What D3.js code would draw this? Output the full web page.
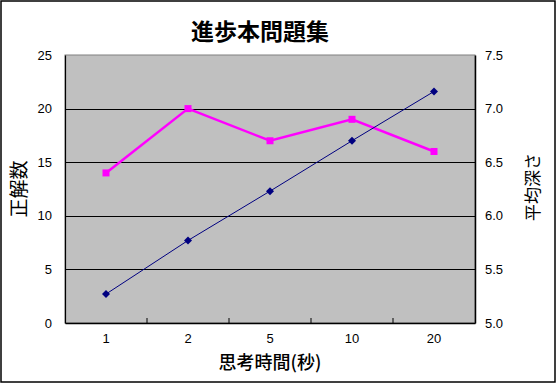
<!DOCTYPE html>
<html><head><meta charset="utf-8">
<script src="https://cdn.jsdelivr.net/npm/d3@7"></script>
<style>body{margin:0;background:#fff}svg{display:block}</style>
</head><body>
<svg id="c" width="557" height="385"></svg>
<script>
const categories = ["1","2","5","10","20"];
const correct = [14, 20, 17, 19, 16];
const avgDepth = [5.27, 5.77, 6.23, 6.70, 7.16];
const leftTicks = [0,5,10,15,20,25];
const rightTicks = [5.0,5.5,6.0,6.5,7.0,7.5];
const title = "進歩本問題集";
const xTitle = "思考時間(秒)";
const yTitle = "正解数";
const y2Title = "平均深さ";

const svg = d3.select("#c");
const m = {l:65, r:475, t:55, b:323};
const font = "'Liberation Sans', Arial, sans-serif";
const cjk = "'Noto Sans CJK JP', sans-serif";

svg.append("rect").attr("x",1).attr("y",1).attr("width",554).attr("height",381)
  .attr("fill","#fff").attr("stroke","#000").attr("stroke-width",1.5);

const x = d3.scaleBand().domain(categories).range([m.l, m.r]).padding(0);
const y = d3.scaleLinear().domain([0,25]).range([m.b, m.t]);
const y2 = d3.scaleLinear().domain([5,7.5]).range([m.b, m.t]);

svg.append("rect").attr("x",m.l).attr("y",m.t).attr("width",m.r-m.l).attr("height",m.b-m.t)
  .attr("fill","#C0C0C0").attr("stroke","#808080").attr("stroke-width",1);

// gridlines
svg.append("g").selectAll("line").data(leftTicks.slice(1,-1)).join("line")
  .attr("x1",m.l).attr("x2",m.r).attr("y1",d=>Math.round(y(d))+0.5).attr("y2",d=>Math.round(y(d))+0.5)
  .attr("stroke","#000").attr("stroke-width",1.2);

// left axis
const ga = svg.append("g").attr("transform",`translate(${m.l},0)`)
  .call(d3.axisLeft(y).tickValues(leftTicks).tickSize(0).tickPadding(13));
ga.select(".domain").attr("stroke","#000").attr("stroke-width",1.2);
ga.selectAll("text").attr("font-family",font).attr("font-size",13).attr("fill","#000");

// right axis
const gb = svg.append("g").attr("transform",`translate(${m.r},0)`)
  .call(d3.axisRight(y2).tickValues(rightTicks).tickFormat(d3.format(".1f")).tickSize(0).tickPadding(10));
gb.select(".domain").attr("stroke","#000").attr("stroke-width",1.5);
gb.selectAll("text").attr("font-family",font).attr("font-size",13).attr("fill","#000");

// bottom axis
const gx = svg.append("g").attr("transform",`translate(0,${m.b})`)
  .call(d3.axisBottom(x).tickSize(0).tickPadding(11));
gx.select(".domain").attr("stroke","#000").attr("stroke-width",1.5);
gx.selectAll("text").attr("font-family",font).attr("font-size",13).attr("fill","#000");
// inward ticks at category boundaries
svg.append("g").selectAll("line").data(categories.slice(1)).join("line")
  .attr("x1",d=>x(d)).attr("x2",d=>x(d)).attr("y1",m.b).attr("y2",m.b-5)
  .attr("stroke","#000").attr("stroke-width",1);

const cx = d => x(d) + x.bandwidth()/2;

// pink series
svg.append("path").datum(correct)
  .attr("d", d3.line().x((d,i)=>cx(categories[i])).y(d=>y(d)))
  .attr("fill","none").attr("stroke","#FF00FF").attr("stroke-width",2.5);
svg.append("g").selectAll("rect").data(correct).join("rect")
  .attr("x",(d,i)=>cx(categories[i])-3.5).attr("y",d=>y(d)-3.5)
  .attr("width",7).attr("height",7).attr("fill","#FF00FF");

// navy series
svg.append("path").datum(avgDepth)
  .attr("d", d3.line().x((d,i)=>cx(categories[i])).y(d=>y2(d)))
  .attr("fill","none").attr("stroke","#000080").attr("stroke-width",1);
svg.append("g").selectAll("path").data(avgDepth).join("path")
  .attr("d", d3.symbol(d3.symbolSquare, 32))
  .attr("transform",(d,i)=>`translate(${cx(categories[i])},${y2(d)}) rotate(45)`)
  .attr("fill","#000080");

// titles
svg.append("text").attr("x",260).attr("y",40).attr("text-anchor","middle")
  .attr("font-family",cjk).attr("font-weight","bold").attr("font-size",23).text(title);
svg.append("text").attr("x",270).attr("y",369).attr("text-anchor","middle")
  .attr("font-family",cjk).attr("font-weight","500").attr("font-size",18).text(xTitle);
svg.append("text").attr("transform","translate(26,189) rotate(-90)").attr("text-anchor","middle")
  .attr("font-family",cjk).attr("font-size",19).text(yTitle);
svg.append("text").attr("transform","translate(539,187) rotate(-90)").attr("text-anchor","middle")
  .attr("font-family",cjk).attr("font-size",17).text(y2Title);
</script>
</body></html>
